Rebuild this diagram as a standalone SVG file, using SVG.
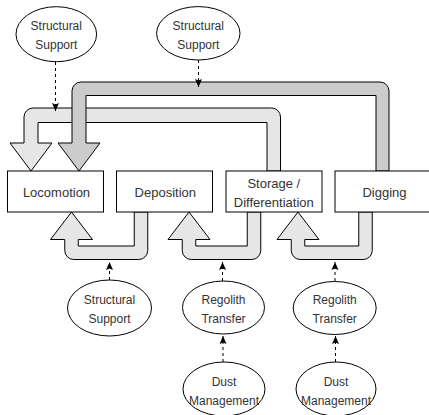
<svg xmlns="http://www.w3.org/2000/svg" width="429" height="415" viewBox="0 0 429 415">
  <style>
    .box { fill: #ffffff; stroke: #000000; stroke-width: 1; }
    .oval { fill: #ffffff; stroke: #000000; stroke-width: 1; }
    .lbl { font-family: "Liberation Sans", Arial, sans-serif; fill: #333333; text-anchor: middle; }
    .big { font-size: 13px; }
    .small { font-size: 12px; }
    .band-light { fill: #e6e6e6; stroke: #000000; stroke-width: 1; stroke-linejoin: miter; }
    .band-dark { fill: #cccccc; stroke: #000000; stroke-width: 1; stroke-linejoin: miter; }
    .dash { fill: none; stroke: #000000; stroke-width: 1; stroke-dasharray: 3 3; marker-end: url(#tip); }
  </style>
  <defs>
    <marker id="tip" markerUnits="userSpaceOnUse" markerWidth="9" markerHeight="8" refX="8" refY="4" orient="auto">
      <path d="M0,0.5 L8,4 L0,7.5 L1.5,4 Z" fill="#000000"/>
    </marker>
  </defs>

  <rect width="429" height="415" fill="#ffffff"/>

  <g id="connectors">
    <!-- Storage / Differentiation to Locomotion -->
    <path class="band-light" d="M267,171 V122.5 H38 V143 H52 L31,171 L10,143 H24 V117 A9,9 0 0 1 33,108 H271.5 A9,9 0 0 1 280.5,117 V171 Z"/>
    <!-- Digging to Locomotion -->
    <path class="band-dark" d="M376,171 V95.5 H86 V143 H100 L79,171 L58,143 H72 V91 A9,9 0 0 1 81,82 H380 A9,9 0 0 1 389,91 V171 Z"/>
    <!-- Deposition to Locomotion -->
    <path class="band-light" d="M134.25,212 V246 H78.25 V239.5 H92.5 L71.5,212 L50.5,239.5 H64.75 V250.5 A9,9 0 0 0 73.75,259.5 H138.75 A9,9 0 0 0 147.75,250.5 V212 Z"/>
    <!-- Storage / Differentiation to Deposition -->
    <path class="band-light" d="M247.25,212 V246 H195.75 V239.5 H210 L189,212 L168,239.5 H182.25 V250.5 A9,9 0 0 0 191.25,259.5 H251.75 A9,9 0 0 0 260.75,250.5 V212 Z"/>
    <!-- Digging to Storage / Differentiation -->
    <path class="band-light" d="M358.75,212 V246 H304.75 V239.5 H319 L298,212 L277,239.5 H291.25 V250.5 A9,9 0 0 0 300.25,259.5 H363.25 A9,9 0 0 0 372.25,250.5 V212 Z"/>

    <!-- dashed support links -->
    <line class="dash" x1="55.5" y1="62" x2="55.5" y2="111"/>
    <line class="dash" x1="198.5" y1="60" x2="198.5" y2="87"/>
    <line class="dash" x1="109.5" y1="280" x2="109.5" y2="262"/>
    <line class="dash" x1="222.5" y1="281" x2="222.5" y2="262"/>
    <line class="dash" x1="335" y1="281" x2="335" y2="262"/>
    <line class="dash" x1="223" y1="362" x2="223" y2="336"/>
    <line class="dash" x1="335.5" y1="362" x2="335.5" y2="336"/>
  </g>

  <g id="locomotion">
    <rect class="box" x="7.5" y="171" width="96" height="41"/>
    <text class="lbl big" x="56.5" y="197.3">Locomotion</text>
  </g>
  <g id="deposition">
    <rect class="box" x="116.5" y="171" width="96" height="41"/>
    <text class="lbl big" x="165.3" y="197.3">Deposition</text>
  </g>
  <g id="storage">
    <rect class="box" x="226" y="171" width="96" height="41"/>
    <text class="lbl big" x="273.8" y="188">Storage /</text>
    <text class="lbl big" x="273.8" y="207">Differentiation</text>
  </g>
  <g id="digging">
    <rect class="box" x="335" y="171" width="96" height="41"/>
    <text class="lbl big" x="384.5" y="197.3">Digging</text>
  </g>

  <g id="support-top-left">
    <ellipse class="oval" cx="56.3" cy="34.2" rx="40.3" ry="27.5"/>
    <text class="lbl small" x="56.3" y="30.3">Structural</text>
    <text class="lbl small" x="56.3" y="49.3">Support</text>
  </g>
  <g id="support-top-mid">
    <ellipse class="oval" cx="198.3" cy="33.3" rx="41.7" ry="26.7"/>
    <text class="lbl small" x="198.3" y="30.3">Structural</text>
    <text class="lbl small" x="198.3" y="49">Support</text>
  </g>
  <g id="support-bottom">
    <ellipse class="oval" cx="109.5" cy="308" rx="42" ry="28"/>
    <text class="lbl small" x="109.5" y="304">Structural</text>
    <text class="lbl small" x="109.5" y="323">Support</text>
  </g>
  <g id="regolith-left">
    <ellipse class="oval" cx="223.5" cy="307.5" rx="41" ry="26.5"/>
    <text class="lbl small" x="223.5" y="303.5">Regolith</text>
    <text class="lbl small" x="223.5" y="323.3">Transfer</text>
  </g>
  <g id="regolith-right">
    <ellipse class="oval" cx="334.7" cy="308" rx="41.5" ry="26.5"/>
    <text class="lbl small" x="334.7" y="303.5">Regolith</text>
    <text class="lbl small" x="334.7" y="323.3">Transfer</text>
  </g>
  <g id="dust-left">
    <ellipse class="oval" cx="224" cy="389" rx="41" ry="27"/>
    <text class="lbl small" x="224" y="386">Dust</text>
    <text class="lbl small" x="224" y="404.5">Management</text>
  </g>
  <g id="dust-right">
    <ellipse class="oval" cx="336" cy="389" rx="40" ry="27"/>
    <text class="lbl small" x="336" y="386">Dust</text>
    <text class="lbl small" x="336" y="404.5">Management</text>
  </g>
</svg>
